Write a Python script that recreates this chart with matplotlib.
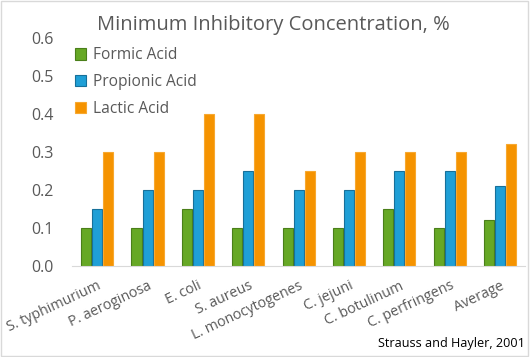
import numpy as np
import matplotlib
matplotlib.use("Agg")
import matplotlib.pyplot as plt
from matplotlib.patches import Rectangle

# Data
organisms = ["S. typhimurium", "P. aeroginosa", "E. coli", "S. aureus",
             "L. monocytogenes", "C. jejuni", "C. botulinum", "C. perfringens",
             "Average"]
formic = [0.10, 0.10, 0.15, 0.10, 0.10, 0.10, 0.15, 0.10, 0.12]
propionic = [0.15, 0.20, 0.20, 0.25, 0.20, 0.20, 0.25, 0.25, 0.21]
lactic = [0.30, 0.30, 0.40, 0.40, 0.25, 0.30, 0.30, 0.30, 0.32]
series_names = ["Formic Acid", "Propionic Acid", "Lactic Acid"]
yticks = [0.0, 0.1, 0.2, 0.3, 0.4, 0.5, 0.6]

plt.rcParams['font.family'] = ['Open Sans', 'DejaVu Sans']
gray = "#595959"

fig = plt.figure(figsize=(5.30, 3.57), dpi=100)
ax = fig.add_axes([0.136, 0.255, 0.855, 0.639])

x = np.arange(len(organisms))
w = 0.2
styles = [("#66a825", "#4a7f1a"), ("#1f9fd6", "#17709a"), ("#f59300", "#f7a830")]
for i, (vals, name) in enumerate(zip([formic, propionic, lactic], series_names)):
    face, edge = styles[i]
    ax.bar(x + (i - 1) * (w + 0.02), vals, width=w, color=face, edgecolor=edge,
           linewidth=0.8, label=name)

ax.set_xlim(-0.5, len(organisms) - 0.5)
ax.set_ylim(0, 0.6)
ax.set_yticks(yticks)
ax.set_yticklabels(["%.1f" % v for v in yticks], fontsize=11.5, color=gray)
ax.set_xticks(x)
ax.set_xticklabels(organisms, rotation=25, ha='right', rotation_mode='anchor',
                   fontsize=10.3, color=gray)
ax.tick_params(axis='y', length=0, pad=13)
ax.tick_params(axis='x', length=0, pad=9)
for s in ["top", "right", "left"]:
    ax.spines[s].set_visible(False)
ax.spines["bottom"].set_color("#d9d9d9")

leg = ax.legend(loc='upper left', bbox_to_anchor=(-0.025, 1.02), frameon=False,
                fontsize=11.2, labelcolor=gray, handlelength=0.75, handleheight=0.75,
                handletextpad=0.45, labelspacing=0.7)

fig.text(0.515, 0.93, "Minimum Inhibitory Concentration, %", ha='center',
         va='center', fontsize=14.5, color=gray)
fig.text(0.99, 0.038, "Strauss and Hayler, 2001", ha='right', va='center',
         fontsize=9.1, color="black")

fig.patches.append(Rectangle((0.002, 0.003), 0.995, 0.994, transform=fig.transFigure,
                             fill=False, edgecolor="#d9d9d9", linewidth=1))

fig.savefig("out.png", dpi=100)
